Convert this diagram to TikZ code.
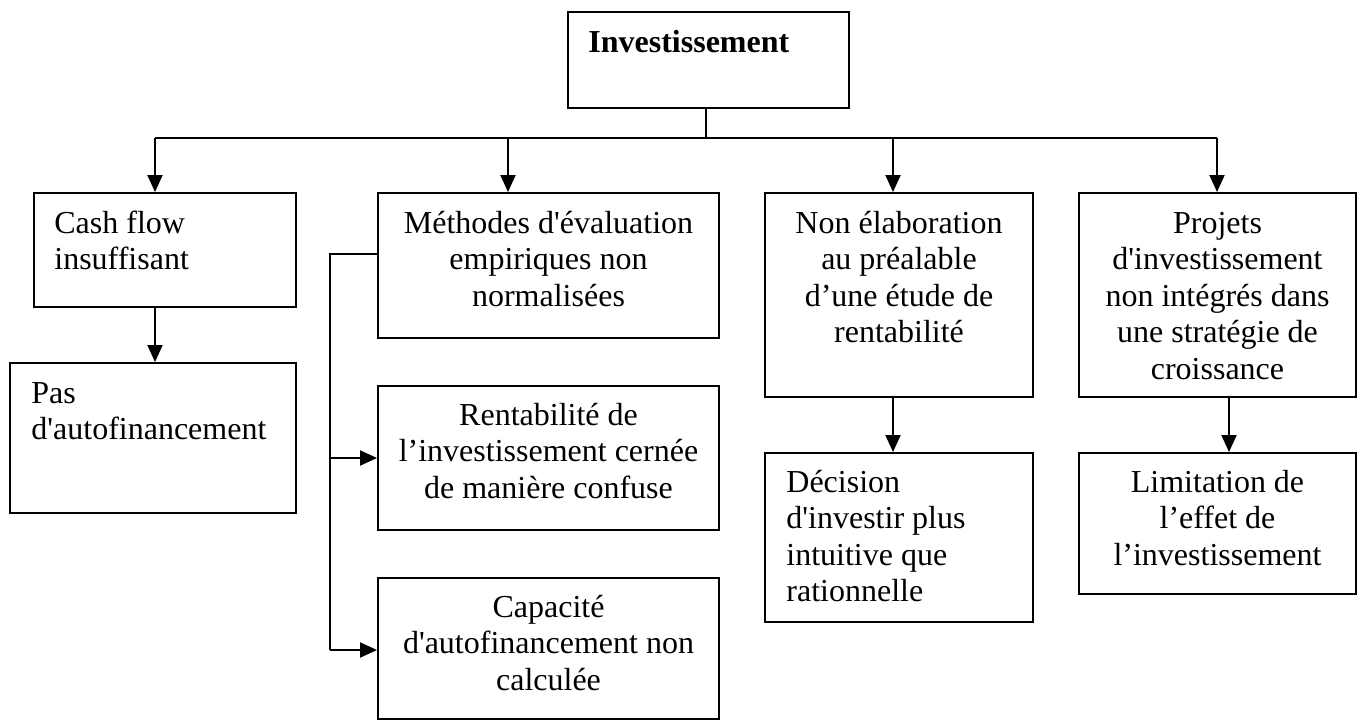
\documentclass[tikz,border=0pt]{standalone}
\usepackage{fontspec}
\newfontfamily\diagfont{Liberation Serif}
\usetikzlibrary{arrows.meta,fit}
\begin{document}
\begin{tikzpicture}[x=0.5pt,y=-0.5pt,
  box/.style={draw, line width=1pt, rectangle, inner sep=0pt},
  lbl/.style={inner sep=0pt, font=\diagfont\fontsize{16pt}{18.25pt}\selectfont},
  ctr/.style={lbl, align=center, anchor=base},
  lft/.style={lbl, align=left, anchor=base west},
  link/.style={line width=1pt},
  arr/.style={link, -{Triangle[length=8.5pt,width=7.5pt]}}]
\useasboundingbox (0,0) rectangle (1359,720);

% boxes
\node[box, fit={(568,12) (849,108)}] (top) {};
\node[box, fit={(34,193) (296,307)}] (cash) {};
\node[box, fit={(10,363) (296,513)}] (pas) {};
\node[box, fit={(378,193) (719,338)}] (meth) {};
\node[box, fit={(378,386) (719,530)}] (rent) {};
\node[box, fit={(378,578) (719,719)}] (cap) {};
\node[box, fit={(765,193) (1033,397)}] (nonel) {};
\node[box, fit={(765,453) (1033,622)}] (dec) {};
\node[box, fit={(1079,193) (1356,397)}] (proj) {};
\node[box, fit={(1079,453) (1356,594)}] (lim) {};

% texts (each placed by the baseline of its last line)
\node[lft, font=\diagfont\bfseries\fontsize{16pt}{18.25pt}\selectfont] (topt) at (588,52) {Investissement};
\node[lft] (casht) at (54,269.5) {Cash flow\\insuffisant};
\node[lft] (past) at (31,439.5) {Pas\\d'autofinancement};
\node[ctr] (metht) at (548.5,306) {Méthodes d'évaluation\\empiriques non\\normalisées};
\node[ctr] (rentt) at (548.5,498) {Rentabilité de\\l’investissement cernée\\de manière confuse};
\node[ctr] (capt) at (548.5,690) {Capacité\\d'autofinancement non\\calculée};
\node[ctr] (nonelt) at (899,342.5) {Non élaboration\\au préalable\\d’une étude de\\rentabilité};
\node[lft] (dect) at (786,601.5) {Décision\\d'investir plus\\intuitive que\\rationnelle};
\node[ctr] (projt) at (1217.5,379) {Projets\\d'investissement\\non intégrés dans\\une stratégie de\\croissance};
\node[ctr] (limt) at (1217.5,565) {Limitation de\\l’effet de\\l’investissement};

% distribution bar under the top box
\coordinate (hub) at (706,138);
\coordinate (k1) at (155,138);
\coordinate (k2) at (508,138);
\coordinate (k3) at (893,138);
\coordinate (k4) at (1217,138);
\draw[link] (hub |- top.south) -- (hub);
\draw[link] (k1) -- (k4);
\draw[arr] (k1) -- (k1 |- cash.north);
\draw[arr] (k2) -- (k2 |- meth.north);
\draw[arr] (k3) -- (k3 |- nonel.north);
\draw[arr] (k4) -- (k4 |- proj.north);

% consequences
\coordinate (c1) at (155,0);
\draw[arr] (c1 |- cash.south) -- (c1 |- pas.north);
\coordinate (c3) at (893,0);
\draw[arr] (c3 |- nonel.south) -- (c3 |- dec.north);
\coordinate (c4) at (1229,0);
\draw[arr] (c4 |- proj.south) -- (c4 |- lim.north);

% side bracket from the methods box
\coordinate (bx) at (330,254);
\coordinate (bend) at (330,650);
\draw[link] (bx -| meth.west) -- (bx) -- (bend);
\draw[arr] (bx |- rent.west) -- (rent.west);
\draw[arr] (bend) -- (bend -| cap.west);
\end{tikzpicture}
\end{document}
